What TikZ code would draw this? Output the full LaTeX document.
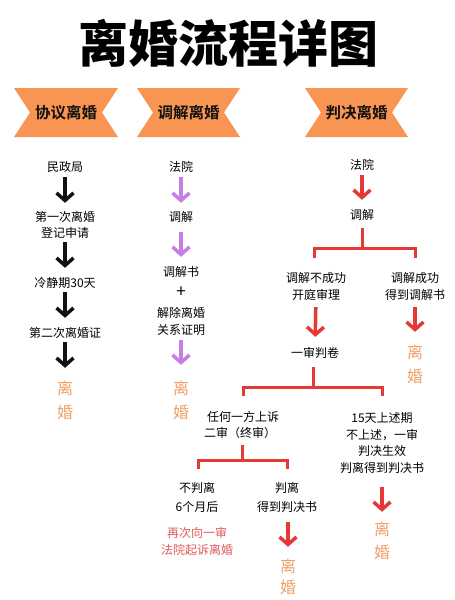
\documentclass[tikz,border=0pt]{standalone}
\usepackage{fontspec}
\setmainfont{Noto Sans CJK SC}[BoldFont={Noto Sans CJK SC Bold}]
\newfontfamily\titlefont{Noto Sans CJK SC Black}
\usetikzlibrary{arrows.meta}
\definecolor{banner}{HTML}{F89552}
\definecolor{resorange}{HTML}{F0A066}
\definecolor{lred}{HTML}{E53935}
\definecolor{lpurple}{HTML}{C77DE6}
\definecolor{lblack}{HTML}{111111}
\definecolor{pinkred}{HTML}{E25A5A}
\begin{document}
\begin{tikzpicture}[x=1pt,y=-1pt,
  txt/.style={font=\fontsize{12}{14}\selectfont, text height=10pt, text depth=2pt, inner sep=0pt},
  res/.style={font=\fontsize{16}{18}\selectfont, text=resorange, text height=13.5pt, text depth=2.5pt, inner sep=0pt},
  bantxt/.style={font=\fontsize{15.5}{18}\selectfont\bfseries, text=lblack, inner sep=0pt},
  arr/.style={line width=3.5pt, -{Straight Barb[length=7.5pt,width=17pt]}},
  barr/.style={arr, draw=lblack},
  parr/.style={arr, draw=lpurple},
  rarr/.style={arr, draw=lred},
  brk/.style={draw=lred, line width=3pt},
  bannershape/.style={fill=banner}
]
\useasboundingbox[fill=white] (0,0) rectangle (455,600);

% title
\node[font=\fontsize{50}{56}\titlefont, text=black, inner sep=0pt] (title) at (228,43) {离婚流程详图};

% banners
\fill[bannershape] (14,88) -- (118,88) -- (102,112.5) -- (118,137) -- (14,137) -- (30,112.5) -- cycle;
\fill[bannershape] (137,88) -- (240,88) -- (224,112.5) -- (240,137) -- (137,137) -- (153,112.5) -- cycle;
\fill[bannershape] (305,88) -- (408,88) -- (392,112.5) -- (408,137) -- (305,137) -- (321,112.5) -- cycle;
\node[bantxt] (ban1) at (66,113) {协议离婚};
\node[bantxt] (ban2) at (188.5,113) {调解离婚};
\node[bantxt] (ban3) at (356.5,113) {判决离婚};

% column 1
\node[txt] (c1a) at (65,167) {民政局};
\node[txt] (c1b) at (65,217) {第一次离婚};
\node[txt] (c1c) at (65,233) {登记申请};
\node[txt] (c1d) at (65,283) {冷静期30天};
\node[txt] (c1e) at (65,333) {第二次离婚证};
\node[res] (c1f) at (65,389) {离};
\node[res] (c1g) at (65,413) {婚};
\draw[barr, shorten <=4pt, shorten >=8pt] (c1a) -- (c1b);
\draw[barr, shorten <=3pt, shorten >=9pt] (c1c) -- (c1d);
\draw[barr, shorten <=3pt, shorten >=9pt] (c1d) -- (c1e);
\draw[barr, shorten <=3pt, shorten >=13pt] (c1e) -- (c1f);

% column 2
\node[txt] (c2a) at (181,167) {法院};
\node[txt] (c2b) at (181,217) {调解};
\node[txt] (c2c) at (181,272) {调解书};
\node[font=\fontsize{17}{18}\selectfont, inner sep=0pt] (c2d) at (181,292) {+};
\node[txt] (c2e) at (181,313) {解除离婚};
\node[txt] (c2f) at (181,330) {关系证明};
\node[res] (c2g) at (181,389) {离};
\node[res] (c2h) at (181,413) {婚};
\draw[parr, shorten <=4pt, shorten >=8pt] (c2a) -- (c2b);
\draw[parr, shorten <=9pt, shorten >=9pt] (c2b) -- (c2c);
\draw[parr, shorten <=4pt, shorten >=16pt] (c2f) -- (c2g);

% column 3
\node[txt] (c3a) at (362,165) {法院};
\node[txt] (c3b) at (362,215) {调解};
\draw[rarr, shorten <=4pt, shorten >=9pt] (c3a) -- (c3b);

\node[txt] (c3c) at (316,278) {调解不成功};
\node[txt] (c3d) at (316,295) {开庭审理};
\node[txt] (c3e) at (415,278) {调解成功};
\node[txt] (c3f) at (415,295) {得到调解书};

\coordinate (b1mid) at (362,248);
\coordinate (b1l) at (314,258);
\coordinate (b1r) at (415,258);
\draw[brk] ([yshift=-7pt]c3b.south) -- (b1mid);
\draw[brk] (b1l) |- (b1mid) -| (b1r);

\node[txt] (c3g) at (315,353) {一审判卷};
\node[res] (c3h) at (415,353) {离};
\node[res] (c3i) at (415,377) {婚};
\draw[rarr, shorten <=6pt, shorten >=10pt] (c3d) -- (c3g);
\draw[rarr, shorten <=6pt, shorten >=13pt] (c3f) -- (c3h);

\coordinate (b2mid) at (313,387);
\coordinate (b2l) at (243,396);
\coordinate (b2r) at (382,396);
\draw[brk] ([yshift=-8pt]c3g.south -| b2mid) -- (b2mid);
\draw[brk] (b2l) |- (b2mid) -| (b2r);

\node[txt] (c3j) at (243,417) {任何一方上诉};
\node[txt] (c3k) at (240,433) {二审（终审）};
\node[txt] (c3l) at (382,418) {15天上述期};
\node[txt] (c3m) at (382,435) {不上述，一审};
\node[txt] (c3n) at (382,451) {判决生效};
\node[txt] (c3o) at (382,468) {判离得到判决书};

\coordinate (b3mid) at (242,460);
\coordinate (b3l) at (198,469);
\coordinate (b3r) at (287,469);
\draw[brk] ([yshift=-6pt]c3k.south -| b3mid) -- (b3mid);
\draw[brk] (b3l) |- (b3mid) -| (b3r);

\node[txt] (c3p) at (197,488) {不判离};
\node[txt] (c3q) at (197,507) {6个月后};
\node[txt] (c3r) at (287,488) {判离};
\node[txt] (c3s) at (287,507) {得到判决书};
\node[txt, text=pinkred] (c3t) at (197,533) {再次向一审};
\node[txt, text=pinkred] (c3u) at (197,550) {法院起诉离婚};

\node[res] (c3v) at (288,567) {离};
\node[res] (c3w) at (288,588) {婚};
\draw[rarr, shorten <=9pt, shorten >=12pt] (c3s.south -| c3v) -- (c3v);

\node[res] (c3x) at (382,530) {离};
\node[res] (c3y) at (382,553) {婚};
\draw[rarr, shorten <=13pt, shorten >=10pt] (c3o) -- (c3x);
\end{tikzpicture}
\end{document}
